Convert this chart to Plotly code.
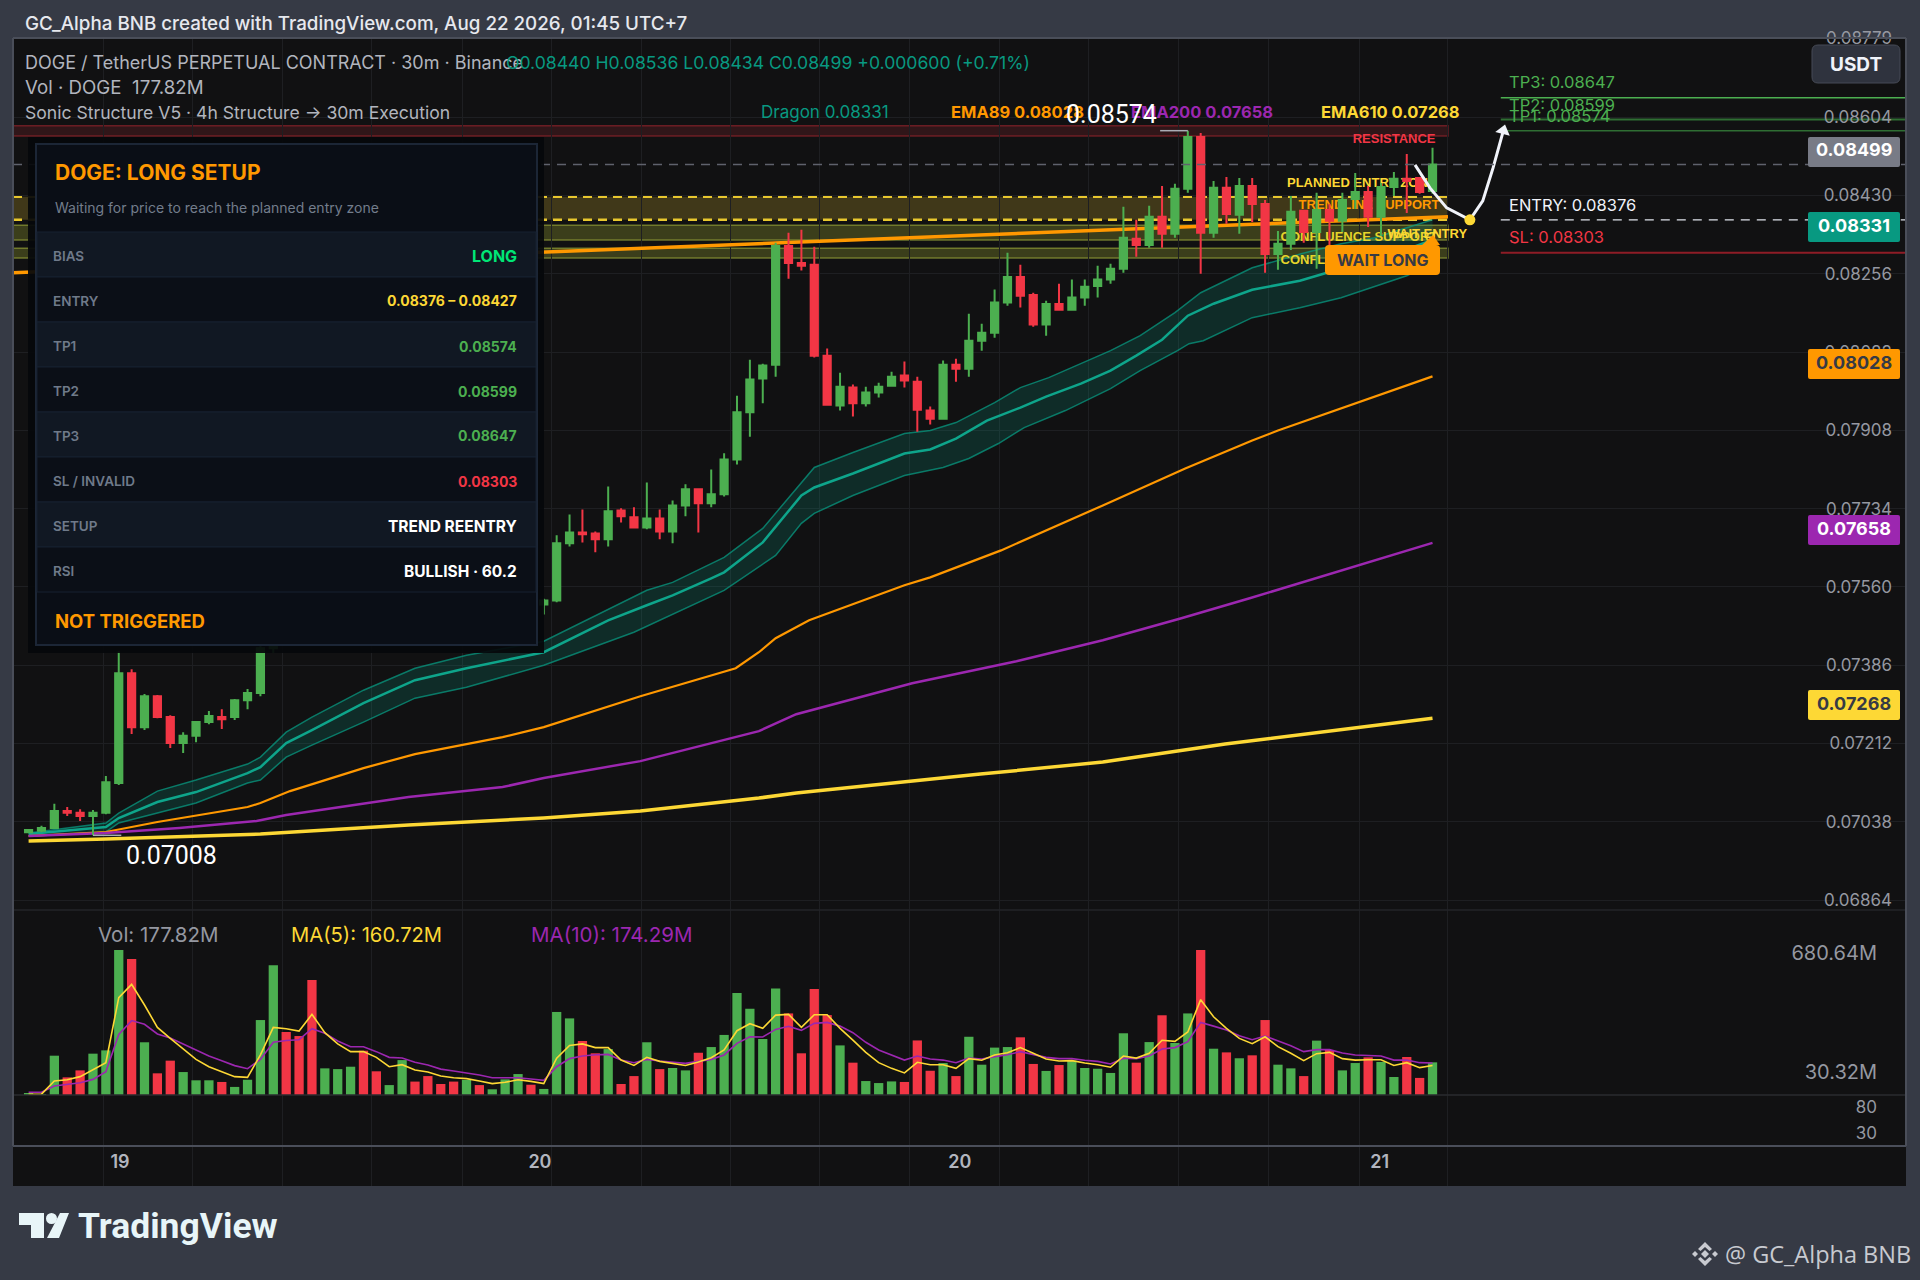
import plotly.graph_objects as go
from plotly.subplots import make_subplots

# candles (bars 19-39 sit behind the panel, so those are estimates)
OPEN = [.07015, .07018, .07024, .07062, .07058, .07051, .07058, .07124, .07368, .07248, .07317, .07271, .07213, .07229, .07260, .07271, .07271, .07308, .07324,
        .07424, .07564, .07530, .07504, .07442, .07468, .07490, .07517, .07486, .07468, .07477, .07508, .07499, .07486, .07479, .07473, .07484, .07477, .07482, .07495, .07513,
        .07521, .07530, .07657, .07681, .07679, .07666, .07730, .07715, .07692, .07712, .07683, .07741, .07777, .07746, .07766, .07843, .07948, .08023, .08054, .08318,
        .08280, .08276, .08074, .07963, .08003, .07968, .07992, .08007, .08030, .08016, .07952, .07934, .08054, .08045, .08107, .08125, .08192, .08249, .08209, .08143,
        .08189, .08176, .08203, .08229, .08243, .08267, .08334, .08320, .08383, .08345, .08445, .08560, .08347, .08447, .08387, .08451, .08411, .08300, .08323, .08396,
        .08349, .08398, .08374, .08422, .08438, .08383, .08449, .08467, .08469, .08440]
HIGH = [.07022, .07029, .07078, .07071, .07066, .07064, .07140, .07417, .07377, .07322, .07320, .07275, .07237, .07262, .07284, .07288, .07311, .07333, .07442,
        .07586, .07575, .07545, .07520, .07485, .07500, .07530, .07525, .07495, .07490, .07520, .07515, .07505, .07495, .07488, .07495, .07490, .07490, .07505, .07525, .07520,
        .07534, .07675, .07721, .07732, .07683, .07783, .07735, .07737, .07792, .07732, .07752, .07788, .07777, .07821, .07857, .07985, .08065, .08056, .08325, .08347,
        .08354, .08316, .08090, .08036, .08010, .08005, .08014, .08038, .08061, .08027, .07961, .08063, .08067, .08167, .08145, .08221, .08303, .08276, .08214, .08196,
        .08234, .08243, .08243, .08274, .08278, .08405, .08376, .08407, .08451, .08456, .08574, .08569, .08462, .08471, .08469, .08469, .08420, .08351, .08429, .08398,
        .08436, .08411, .08436, .08480, .08451, .08458, .08482, .08522, .08471, .08536]
LOW = [.07015, .07015, .07022, .07051, .07040, .07008, .07055, .07120, .07233, .07242, .07268, .07202, .07191, .07215, .07255, .07244, .07264, .07288, .07317,
       .07413, .07515, .07490, .07430, .07435, .07460, .07480, .07475, .07460, .07460, .07470, .07490, .07475, .07470, .07465, .07468, .07470, .07470, .07475, .07490, .07500,
       .07499, .07526, .07650, .07659, .07637, .07650, .07703, .07692, .07688, .07666, .07657, .07717, .07681, .07737, .07761, .07832, .07894, .07968, .08027, .08245,
       .08263, .08070, .07965, .07952, .07939, .07961, .07981, .08007, .08003, .07905, .07921, .07934, .08016, .08027, .08085, .08114, .08185, .08181, .08138, .08118,
       .08176, .08176, .08185, .08203, .08234, .08258, .08294, .08314, .08314, .08336, .08436, .08256, .08336, .08367, .08345, .08371, .08258, .08265, .08309, .08325,
       .08267, .08318, .08349, .08400, .08360, .08340, .08429, .08391, .08434, .08434]
CLOSE = [.07020, .07024, .07062, .07058, .07051, .07058, .07126, .07368, .07248, .07317, .07271, .07213, .07229, .07260, .07273, .07266, .07308, .07324, .07424,
         .07564, .07530, .07504, .07442, .07468, .07490, .07517, .07486, .07468, .07477, .07508, .07499, .07486, .07479, .07473, .07484, .07477, .07482, .07495, .07513, .07508,
         .07530, .07657, .07681, .07677, .07666, .07728, .07717, .07692, .07712, .07683, .07741, .07777, .07746, .07766, .07843, .07948, .08021, .08052, .08318, .08280,
         .08274, .08074, .07965, .08005, .07968, .07992, .08005, .08027, .08019, .07954, .07934, .08054, .08045, .08107, .08125, .08192, .08249, .08207, .08143, .08189,
         .08176, .08203, .08227, .08243, .08267, .08336, .08320, .08383, .08345, .08445, .08560, .08347, .08447, .08389, .08451, .08411, .08300, .08323, .08394, .08349,
         .08398, .08374, .08420, .08438, .08383, .08449, .08467, .08462, .08438, .08499]

# volume and its two averages, millions
VOLUME = [11, 2, 214, 96, 134, 225, 243, 789, 740, 287, 118, 187, 125, 80, 80, 71, 44, 83, 408, 706, 343, 321, 626, 145, 141, 154, 241, 129, 54, 190, 73, 103, 60, 73, 82, 54, 31, 85, 114, 56,
          33, 452, 417, 294, 227, 250, 60, 103, 287, 141, 147, 134, 230, 261, 327, 555, 470, 305, 580, 444, 227, 577, 435, 270, 176, 76, 65, 74, 71, 297, 132, 174, 103, 317, 165, 258, 261, 314, 169, 131,
          163, 187, 147, 143, 120, 336, 176, 288, 434, 283, 444, 789, 252, 232, 200, 216, 408, 165, 145, 103, 296, 245, 134, 174, 205, 180, 98, 207, 93, 177.82]
MA5 = [4, 5, 76, 83, 100, 140, 176, 530, 602, 490, 368, 308, 249, 194, 154, 127, 100, 96, 218, 368, 361, 348, 439, 339, 278, 236, 236, 205, 154, 165, 136, 125, 103, 94, 89, 76, 62, 69, 83, 74,
       62, 200, 270, 278, 258, 258, 190, 161, 205, 183, 172, 161, 180, 203, 245, 350, 388, 363, 435, 439, 368, 437, 437, 363, 299, 232, 176, 145, 120, 178, 165, 165, 145, 198, 189, 218, 230, 258, 227, 196,
       185, 187, 174, 165, 151, 212, 201, 227, 298, 292, 343, 519, 426, 363, 308, 279, 317, 263, 227, 187, 225, 232, 198, 190, 192, 192, 161, 176, 149, 160.72]
MA10 = [15, 15, 49, 60, 67, 85, 127, 330, 405, 385, 332, 310, 278, 245, 212, 187, 160, 143, 194, 287, 297, 301, 361, 336, 294, 263, 263, 236, 205, 201, 178, 163, 141, 131, 122, 109, 94, 93, 94, 87,
        80, 154, 198, 212, 219, 221, 190, 176, 194, 185, 178, 172, 183, 194, 218, 281, 317, 316, 357, 374, 352, 390, 395, 375, 339, 287, 245, 218, 190, 212, 196, 190, 176, 201, 196, 209, 219, 236, 221, 205,
        198, 198, 189, 183, 169, 200, 198, 212, 250, 258, 290, 395, 375, 354, 323, 301, 321, 294, 268, 236, 247, 247, 229, 218, 216, 212, 190, 190, 176, 174.29]

# moving averages, sampled at the bars where they were read
DRAGON_X = [0, 6, 7, 10, 13, 17, 18, 20, 22, 26, 30, 34, 40, 45, 48, 50, 53, 54, 57, 60, 61, 64, 68, 70, 72, 74.4, 77, 79, 81.7, 84, 86, 88, 90, 92, 95, 98.7, 100.8, 105, 109]
DRAGON = [.070109, .070265, .070465, .070819, .071041, .071463, .071596, .072129, .072417, .073017, .073527, .073793, .074149, .074859, .075192, .075414, .075791, .075924, .076590, .077633,
          .077811, .078121, .078565, .078654, .078898, .079297, .079586, .079830, .080119, .080407, .080740, .081095, .081628, .081894, .082205, .082405, .082582, .082893, .08331]
UPPER_X = [0, 6, 7, 10, 13, 17, 18, 20, 22, 26, 30, 34, 40, 43.3, 48, 50, 54, 57, 61, 64, 68, 70, 72, 75, 77, 79.2, 84, 86.3, 89, 91, 95, 98.8, 101.9, 104.5, 108.6, 109]
UPPER = [.070131, .070354, .070575, .071063, .071308, .071663, .071818, .072373, .072706, .073305, .073793, .074082, .074393, .074859, .075525, .075702, .076257, .076901, .078255, .078587,
         .079009, .079076, .079253, .079697, .080030, .080252, .080851, .081184, .081695, .082139, .082693, .083004, .083226, .083359, .083736, .083759]
LOWER_X = [0, 6, 7, 10, 13, 17, 18, 20, 22, 26, 30, 34, 40, 47, 52, 54, 58, 60, 61, 64, 68, 71, 73, 75.3, 77.3, 80.5, 84, 86.3, 89.2, 90.1, 91.2, 95, 98.7, 101.9, 107, 109]
LOWER = [.070065, .070154, .070354, .070575, .070797, .071241, .071308, .071818, .072084, .072595, .073128, .073371, .073860, .074593, .075258, .075525, .076301, .077012, .077234, .077633,
         .078077, .078255, .078454, .078787, .079142, .079520, .080008, .080407, .080851, .081007, .081073, .081584, .081805, .082027, .082516, .082804]
EMA89_X = [0, 6, 10, 14, 17, 18, 20.3, 26, 30, 36.8, 40, 47.5, 54.9, 56.7, 58, 60.6, 68, 70, 75.5, 83.4, 89.8, 95, 97, 109]
EMA89 = [.070065, .070154, .070376, .070575, .070708, .070797, .071063, .071574, .071885, .072262, .072484, .073172, .073793, .074149, .074460, .074859, .075636, .075813, .076412, .077411,
         .078232, .078854, .079076, .08028]
EMA200_X = [0, 6, 11.7, 17.7, 20, 29.5, 36.8, 40, 47.5, 56.7, 59.6, 68.6, 76.7, 83.4, 89.5, 94.8, 109]
EMA200 = [.070065, .070131, .070243, .070398, .070531, .070931, .071153, .071352, .071729, .072395, .072772, .073460, .073949, .074415, .074904, .075347, .07658]
EMA610_X = [0, 6, 18, 29.5, 40, 47.5, 56.7, 59.6, 73.9, 83.4, 92.9, 109]
EMA610 = [.069954, .069998, .070109, .070309, .070465, .070620, .070908, .071019, .071441, .071707, .072107, .07268]

# planned path after the last bar
PATH_X = [107.64, 108.8, 110.1, 111.9, 112.9, 113.7, 114.5]
PATH = [.084981, .084469, .084025, .08376, .084180, .084913, .08574]

# levels
LAST = 0.08499
TP1, TP2, TP3 = 0.08574, 0.08599, 0.08647
ENTRY_LOW, ENTRY_HIGH = 0.08376, 0.08427
SL = 0.08303
RESIST = (0.08562, 0.08585)
CONFL_A = (0.08331, 0.08364)
CONFL_B = (0.08291, 0.08313)
TREND_X = [-1.21, 110.2]
TREND = [0.08258, 0.08383]

# axes
PRICE_TICKS = [0.08779, 0.08604, 0.08430, 0.08256, 0.08082, 0.07908, 0.07734, 0.07560, 0.07386, 0.07212, 0.07038, 0.06864]
PRICE_LABELS = ["0.08779", "0.08604", "0.08430", "0.08256", "0.08082", "0.07908", "0.07734", "0.07560", "0.07386", "0.07212", "0.07038", "0.06864"]
VOL_TICKS = [773, 125]
VOL_LABELS = ["680.64M", "30.32M"]
RSI_TICKS = [80, 30]
DAY_TICKS = [7.1, 39.7, 72.3, 104.9]
DAY_LABELS = ["19", "20", "20", "21"]
GRID_X = [5.78, 12.75, 19.7, 26.6, 33.7, 40.6, 47.6, 54.5, 61.4, 68.4, 75.4, 82.3, 89.3, 96.3, 103.3, 110.2]

# chart labels drawn behind the candles
ZONE_TEXT = ["PLANNED ENTRY ZONE", "TRENDLINE SUPPORT", "CONFLUENCE SUPPORT", "CONFLUENCE SUPPORT", "WAIT ENTRY", "RESISTANCE"]
ZONE_TEXT_X = [97.7, 98.6, 97.2, 97.2, 105.5, 102.8]
ZONE_TEXT_Y = [.084558, .084069, .083359, .082849, .083426, .085534]

# setup panel
ROW_NAMES = ["BIAS", "ENTRY", "TP1", "TP2", "TP3", "SL / INVALID", "SETUP", "RSI"]
ROW_VALUES = ["LONG", "0.08376 – 0.08427", "0.08574", "0.08599", "0.08647", "0.08303", "TREND REENTRY", "BULLISH · 60.2"]

GREEN, RED = "#4caf50", "#f23645"
TEAL, ORANGE, PURPLE, YELLOW = "#089981", "#ff9800", "#9c27b0", "#fdd835"
ROW_COLORS = ["#00e676", YELLOW, GREEN, GREEN, GREEN, RED, "#ffffff", "#ffffff"]
ROW_SIZES = [16, 14, 14, 14, 14, 14, 15.5, 15.5]
BG, PANE, GRID = "#363a45", "#111112", "#1e1f22"
FONT = "Inter"

# page geometry, pixels
L, R, T, B = 13, 1906, 38, 1186
W, H = R - L, B - T
X0, X1 = -1.21, 145.76


def px(x):
    return (x - L) / W


def py(y):
    return 1 - (y - T) / H


fig = make_subplots(rows=4, cols=1, shared_xaxes=True, vertical_spacing=0, row_heights=[872, 185, 51, 40])

idx = list(range(len(CLOSE)))


def line(x, y, color, width, **kw):
    fig.add_trace(go.Scatter(x=x, y=y, mode="lines", line=dict(color=color, width=width), hoverinfo="skip", **kw), row=1, col=1)


line(TREND_X, TREND, ORANGE, 3.5)
line(UPPER_X, UPPER, "rgba(8,153,129,0.75)", 1.5)
line(LOWER_X, LOWER, "rgba(8,153,129,0.75)", 1.5, fill="tonexty", fillcolor="rgba(8,153,129,0.2)")
line(DRAGON_X, DRAGON, "#0ea58b", 2.5)
line(EMA89_X, EMA89, ORANGE, 2.2)
line(EMA200_X, EMA200, PURPLE, 2.5)
line(EMA610_X, EMA610, YELLOW, 3.5)

fig.add_trace(go.Scatter(x=ZONE_TEXT_X, y=ZONE_TEXT_Y, text=[f"<b>{t}</b>" for t in ZONE_TEXT], mode="text", textposition="middle right",
                         textfont=dict(family="Liberation Sans", size=13, color=[YELLOW, ORANGE, "#e6d52b", "#e6d52b", YELLOW, RED]),
                         hoverinfo="skip", cliponaxis=False), row=1, col=1)

fig.add_trace(go.Candlestick(x=idx, open=OPEN, high=HIGH, low=LOW, close=CLOSE, whiskerwidth=0, zorder=1,
                             increasing=dict(line=dict(color=GREEN, width=2), fillcolor=GREEN),
                             decreasing=dict(line=dict(color=RED, width=2), fillcolor=RED), hoverinfo="skip"), row=1, col=1)

line(PATH_X, PATH, "#f0f3fa", 3, zorder=2)
fig.add_trace(go.Scatter(x=PATH_X[3:4], y=PATH[3:4], mode="markers", marker=dict(color=YELLOW, size=11), hoverinfo="skip", zorder=3), row=1, col=1)
fig.add_trace(go.Scatter(x=PATH_X[-1:], y=PATH[-1:], mode="markers", marker=dict(color="#f0f3fa", size=13, symbol="triangle-up", angle=15), hoverinfo="skip", zorder=3), row=1, col=1)

bar_colors = [GREEN if c >= o else RED for o, c in zip(OPEN, CLOSE)]
fig.add_trace(go.Bar(x=idx, y=VOLUME, marker=dict(color=bar_colors, line=dict(width=0)), width=0.72, hoverinfo="skip"), row=2, col=1)
fig.add_trace(go.Scatter(x=idx, y=MA10, mode="lines", line=dict(color=PURPLE, width=1.6), hoverinfo="skip"), row=2, col=1)
fig.add_trace(go.Scatter(x=idx, y=MA5, mode="lines", line=dict(color=YELLOW, width=1.6), hoverinfo="skip"), row=2, col=1)

# the two lower panes hold no marks, but plotly only draws a pane that has a trace
for row in (3, 4):
    fig.add_trace(go.Scatter(x=[None], y=[None], mode="lines", hoverinfo="skip"), row=row, col=1)

fig.update_layout(width=1920, height=1280, margin=dict(l=L, r=1920 - R, t=T, b=1280 - B), paper_bgcolor=BG, plot_bgcolor=PANE,
                  showlegend=False, font=dict(family=FONT, color="#b2b5be"), hovermode=False, boxgap=0.2)

fig.update_xaxes(range=[X0, X1], showline=False, zeroline=False, showgrid=False, tickmode="array", tickvals=DAY_TICKS, ticktext=DAY_LABELS,
                 rangeslider_visible=False, ticks="", showticklabels=False,
                 minor=dict(tickmode="array", tickvals=GRID_X, showgrid=True, gridcolor=GRID, gridwidth=1, ticks=""))
fig.update_xaxes(row=4, col=1, showticklabels=True, ticklabelposition="inside", ticklabelstandoff=11, ticklabeloverflow="allow",
                 tickfont=dict(size=18, color="#b2b5be", family=FONT, weight=600))

right = dict(side="right", ticklabelposition="inside", ticklabeloverflow="allow", ticks="", showline=False, zeroline=False, tickmode="array")
price_font = dict(size=17, color="#9598a1", family=FONT)
fig.update_yaxes(row=1, col=1, range=[0.06842, 0.08780], tickvals=PRICE_TICKS, ticktext=PRICE_LABELS, showgrid=True, gridcolor=GRID, ticklabelstandoff=11, tickfont=price_font, **right)
fig.update_yaxes(row=2, col=1, range=[0, 1007], tickvals=VOL_TICKS, ticktext=VOL_LABELS, showgrid=False, ticklabelstandoff=26, tickfont=dict(size=20, color="#9598a1", family=FONT), **right)
fig.update_yaxes(row=3, col=1, range=[5, 103], tickvals=RSI_TICKS, ticktext=[str(v) for v in RSI_TICKS], showgrid=False, ticklabelstandoff=26, tickfont=price_font, **right)
fig.update_yaxes(row=4, col=1, range=[0, 1], showticklabels=False, showgrid=False, zeroline=False)


# zones and levels, in data coordinates
def zone(lo, hi, fill, edge, layer="below"):
    fig.add_shape(type="rect", xref="x", yref="y", x0=X0, x1=110.2, y0=lo, y1=hi, fillcolor=fill, line=dict(color=edge, width=1.5), layer=layer)


def level(y, x0, color, width=1.5, dash="solid", layer="below"):
    fig.add_shape(type="line", xref="x", yref="y", x0=x0, x1=X1, y0=y, y1=y, line=dict(color=color, width=width, dash=dash), layer=layer)


zone(RESIST[0], RESIST[1], "rgba(242,54,69,0.14)", "rgba(150,35,45,0.65)")
zone(ENTRY_LOW, ENTRY_HIGH, "rgba(253,216,53,0.2)", "rgba(0,0,0,0)")
zone(CONFL_A[0], CONFL_A[1], "rgba(170,180,50,0.28)", "rgba(130,140,50,0.8)")
zone(CONFL_B[0], CONFL_B[1], "rgba(170,180,50,0.28)", "rgba(130,140,50,0.8)")
for y in (ENTRY_LOW, ENTRY_HIGH):
    fig.add_shape(type="line", xref="x", yref="y", x0=X0, x1=110.2, y0=y, y1=y, line=dict(color="#e8c72e", width=2.5, dash="9px,6px"), layer="below")

level(TP3, 114.3, GREEN, 1.5)
level(TP2, 114.3, "#2f6e33", 2)
level(TP1, 114.3, "#2f6e33", 1.5)
level(SL, 114.3, "#8e1c26", 2)
level(ENTRY_LOW, 114.3, "#e0e3eb", 1.3, "9px,7px")
level(LAST, X0, "#5f626c", 1.6, "9px,7px", "above")

# swing high / low brackets
for x0, x1, y in ((87.85, 90, HIGH[90]), (5, 7.2, LOW[5])):
    fig.add_shape(type="line", xref="x", yref="y", x0=x0, x1=x1, y0=y, y1=y, line=dict(color="#a9acb5", width=1.5))


def paper_rect(x0, y0, x1, y1, fill, edge=None, width=0, opacity=1):
    fig.add_shape(type="rect", xref="paper", yref="paper", x0=px(x0), x1=px(x1), y0=py(y0), y1=py(y1), fillcolor=fill,
                  line=dict(color=edge or fill, width=width), opacity=opacity, layer="above")


def rounded(x0, y0, x1, y1, r, fill, edge=None, width=0):
    corner = lambda cx, cy, ex, ey: f" Q {px(cx)} {py(cy)} {px(ex)} {py(ey)}"
    d = f"M {px(x0 + r)} {py(y0)} L {px(x1 - r)} {py(y0)}" + corner(x1, y0, x1, y0 + r)
    d += f" L {px(x1)} {py(y1 - r)}" + corner(x1, y1, x1 - r, y1)
    d += f" L {px(x0 + r)} {py(y1)}" + corner(x0, y1, x0, y1 - r)
    d += f" L {px(x0)} {py(y0 + r)}" + corner(x0, y0, x0 + r, y0)
    fig.add_shape(type="path", xref="paper", yref="paper", path=d + " Z", fillcolor=fill, line=dict(color=edge or fill, width=width), layer="above")


def poly(points, fill):
    d = "M " + " L ".join(f"{px(x)} {py(y)}" for x, y in points) + " Z"
    fig.add_shape(type="path", xref="paper", yref="paper", path=d, fillcolor=fill, line=dict(width=0), layer="above")


def text(s, x, y, size, color, anchor="left", bold=False, family=FONT, weight=None):
    font = dict(size=size, color=color, family=family)
    if weight:
        font["weight"] = weight
    fig.add_annotation(xref="paper", yref="paper", x=px(x), y=py(y), text=f"<b>{s}</b>" if bold else s, showarrow=False, xanchor=anchor, yanchor="middle",
                       font=font, borderpad=0, bgcolor="rgba(0,0,0,0)")


# frame and pane separators
for y, color, width in ((T, "#4a4e59", 2), (910, "#232428", 1.5), (1095, "#2a2b2f", 1.5), (1146, "#4a4e59", 2)):
    fig.add_shape(type="line", xref="paper", yref="paper", x0=0, x1=1, y0=py(y), y1=py(y), line=dict(color=color, width=width), layer="above")
for x in (L, R):
    fig.add_shape(type="line", xref="paper", yref="paper", x0=px(x), x1=px(x), y0=py(38), y1=py(1146), line=dict(color="#4a4e59", width=2), layer="above")

# wait-long label
poly([(1422, 245), (1433, 235), (1440, 245)], ORANGE)
rounded(1325, 245, 1440, 275, 4, ORANGE)
text("WAIT LONG", 1382, 260, 16, "#363a45", "center", True)

# setup panel
paper_rect(28, 137, 544, 653, "#05070b", opacity=0.93)
paper_rect(36, 144, 537, 645, "#0a0e16", "#1c2636", 2)
for n, (name, value, color, size) in enumerate(zip(ROW_NAMES, ROW_VALUES, ROW_COLORS, ROW_SIZES)):
    top = 232 + n * 45
    paper_rect(37, top, 536, top + 45, "#111823" if n % 2 == 0 else "#0b0f17", "#172030", 1)
    text(name, 52, top + 24, 13.5, "#6f7a8a", weight=600)
    text(value, 518, top + 24, size, color, "right", True)
text("DOGE: LONG SETUP", 54, 172, 21, ORANGE, bold=True)
text("Waiting for price to reach the planned entry zone", 54, 207, 14, "#737d8c")
text("NOT TRIGGERED", 54, 621, 18.5, ORANGE, bold=True)

# right-hand price tags
for y0, value, fill, ink in ((137, "0.08499", "#787b86", "#ffffff"), (212, "0.08331", TEAL, "#ffffff"), (349, "0.08028", ORANGE, "#363a45"),
                             (515, "0.07658", PURPLE, "#ffffff"), (690, "0.07268", YELLOW, "#363a45")):
    rounded(1808, y0, 1900, y0 + 30, 2, fill)
    text(value, 1854, y0 + 13, 18, ink, "center", True)
rounded(1812, 45, 1900, 83, 6, "#2f333e", "#474b56", 1)
text("USDT", 1856, 64, 19, "#f0f3fa", "center", True)

# header and legend rows
text("GC_Alpha BNB created with TradingView.com, Aug 22 2026, 01:45 UTC+7", 24, 23, 18.8, "#e6e8ee", weight=500)
text("DOGE / TetherUS PERPETUAL CONTRACT · 30m · Binance", 24, 62, 18, "#b2b5be")
text("O0.08440 H0.08536 L0.08434 C0.08499 +0.000600 (+0.71%)", 505, 62, 17.6, TEAL)
text("Vol · DOGE  177.82M", 24, 87, 18.7, "#b2b5be")
text("Sonic Structure V5 · 4h Structure → 30m Execution", 24, 112, 17.6, "#b2b5be")
text("Dragon 0.08331", 760, 112, 17, TEAL)
text("EMA89 0.08028", 950, 112, 16.5, ORANGE, bold=True)
text("EMA200 0.07658", 1130, 112, 16.5, PURPLE, bold=True)
text("EMA610 0.07268", 1320, 112, 16.5, YELLOW, bold=True)
text("0.08574", 1065, 114, 25, "#ffffff", family="Roboto")
text("0.07008", 125, 855, 25, "#ffffff", family="Roboto")

# level labels
text("TP3: 0.08647", 1508, 82, 16.5, GREEN)
text("TP2: 0.08599", 1508, 105, 16.5, GREEN)
text("TP1: 0.08574", 1508, 116, 16.5, GREEN)
text("ENTRY: 0.08376", 1508, 205, 16.5, "#f0f3fa")
text("SL: 0.08303", 1508, 237, 16.5, RED)

# volume legend
text("Vol: 177.82M", 97, 934, 20.5, "#9598a1")
text("MA(5): 160.72M", 290, 934, 20.2, YELLOW)
text("MA(10): 174.29M", 530, 934, 20.5, PURPLE)

# footer marks
poly([(19, 1213), (44, 1213), (44, 1238), (31, 1238), (31, 1225), (19, 1225)], "#e8f5f8")
fig.add_shape(type="circle", xref="paper", yref="paper", x0=px(46), x1=px(57), y0=py(1213), y1=py(1224), fillcolor="#e8f5f8", line=dict(width=0), layer="above")
poly([(60, 1213), (69, 1213), (59, 1238), (47, 1238)], "#e8f5f8")
text("TradingView", 77, 1226, 35.5, "#e8f5f8", bold=True, family="Roboto")

for cx, cy, r in ((1705, 1254, 4), (1695, 1254, 3), (1715, 1254, 3)):
    poly([(cx - r, cy), (cx, cy - r), (cx + r, cy), (cx, cy + r)], "#c8cad0")
poly([(1698, 1249), (1705, 1242), (1712, 1249), (1709.5, 1251), (1705, 1247), (1700.5, 1251)], "#c8cad0")
poly([(1698, 1259), (1705, 1266), (1712, 1259), (1709.5, 1257), (1705, 1261), (1700.5, 1257)], "#c8cad0")
text("@ GC_Alpha BNB", 1724, 1254, 23.5, "#c8cad0", family="Open Sans")

fig.write_html("out.html", config={"displayModeBar": False}, post_script="document.body.style.margin='0';")
